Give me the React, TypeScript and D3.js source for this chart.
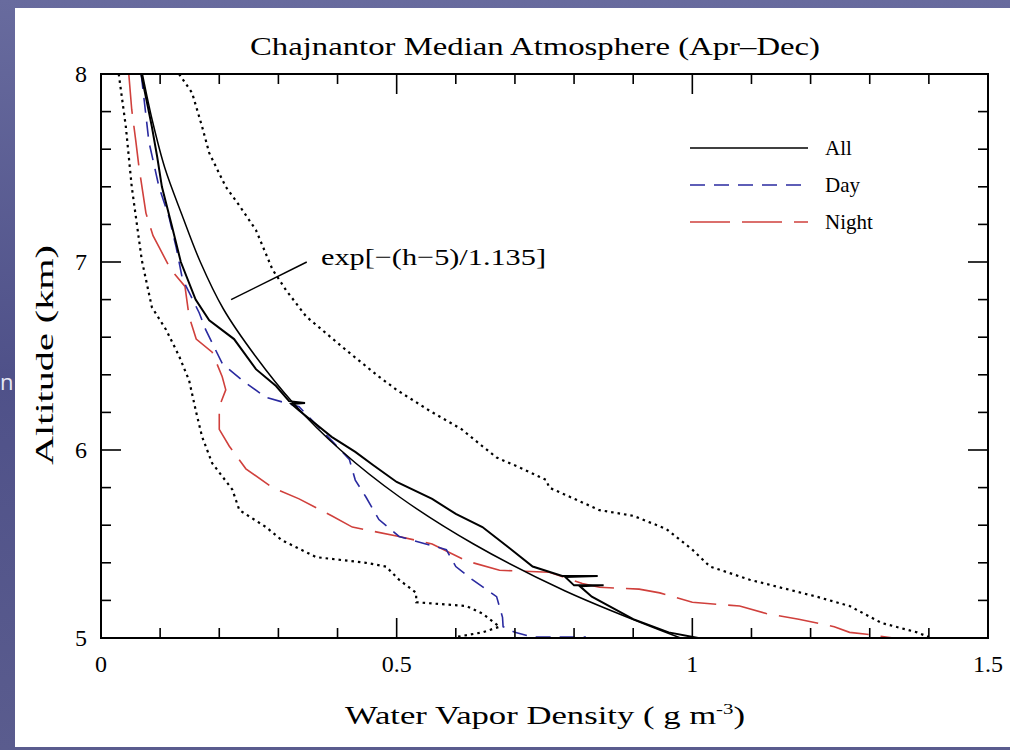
import React from "react";
import * as d3 from "d3";

// ---- data (altitude km, water vapour density g m^-3) ----
const modelAlt = [8.0, 7.75, 7.5, 7.25, 7.0, 6.75, 6.5, 6.25, 6.0, 5.75, 5.5, 5.25, 5.0];
const modelRho = [0.07, 0.087, 0.108, 0.137, 0.168, 0.207, 0.261, 0.325, 0.405, 0.505, 0.63, 0.785, 0.98];

const allAlt = [8.0, 7.86, 7.72, 7.56, 7.4, 7.19, 7.0, 6.8, 6.69, 6.59, 6.43, 6.34, 6.26, 6.25, 6.245, 6.21, 6.07, 5.99, 5.92, 5.83, 5.74, 5.66, 5.59, 5.48, 5.38, 5.33, 5.33, 5.325, 5.28, 5.28, 5.275, 5.22, 5.1, 5.03, 5.0];
const allRho = [0.068, 0.077, 0.086, 0.095, 0.103, 0.12, 0.135, 0.16, 0.183, 0.225, 0.262, 0.296, 0.318, 0.345, 0.322, 0.335, 0.39, 0.43, 0.46, 0.5, 0.56, 0.6, 0.645, 0.69, 0.73, 0.78, 0.84, 0.785, 0.8, 0.85, 0.81, 0.83, 0.9, 0.96, 1.01];

const dayAlt = [8.0, 7.64, 7.4, 7.24, 7.08, 6.92, 6.87, 6.73, 6.64, 6.46, 6.37, 6.28, 6.23, 6.05, 5.95, 5.84, 5.75, 5.63, 5.54, 5.47, 5.38, 5.31, 5.22, 5.11, 5.06, 5.03, 5.005, 5.005];
const dayRho = [0.068, 0.081, 0.098, 0.115, 0.127, 0.137, 0.144, 0.166, 0.177, 0.205, 0.239, 0.279, 0.335, 0.39, 0.42, 0.43, 0.448, 0.47, 0.504, 0.584, 0.6, 0.628, 0.669, 0.679, 0.68, 0.7, 0.73, 0.82];

const nightAlt = [8.0, 7.81, 7.64, 7.51, 7.26, 7.14, 7.08, 6.96, 6.87, 6.71, 6.59, 6.52, 6.39, 6.32, 6.23, 6.11, 6.02, 5.9, 5.8, 5.74, 5.65, 5.59, 5.54, 5.5, 5.41, 5.36, 5.35, 5.29, 5.27, 5.26, 5.24, 5.19, 5.17, 5.13, 5.1, 5.06, 5.03, 5.02, 5.0];
const nightRho = [0.047, 0.052, 0.059, 0.064, 0.076, 0.088, 0.098, 0.118, 0.142, 0.149, 0.161, 0.188, 0.205, 0.211, 0.2, 0.2, 0.217, 0.245, 0.29, 0.335, 0.39, 0.425, 0.504, 0.56, 0.618, 0.674, 0.758, 0.814, 0.843, 0.91, 0.945, 1.0, 1.08, 1.125, 1.18, 1.24, 1.266, 1.295, 1.34];

const lowAlt = [8.0, 7.72, 7.4, 7.01, 6.76, 6.64, 6.5, 6.37, 6.2, 6.07, 5.93, 5.79, 5.68, 5.59, 5.52, 5.43, 5.4, 5.38, 5.31, 5.24, 5.19, 5.17, 5.13, 5.06, 5.03, 5.005];
const lowRho = [0.03, 0.042, 0.052, 0.069, 0.086, 0.11, 0.132, 0.149, 0.161, 0.171, 0.188, 0.222, 0.234, 0.279, 0.306, 0.364, 0.448, 0.482, 0.504, 0.533, 0.533, 0.618, 0.645, 0.674, 0.645, 0.6];

const highAlt = [8.0, 7.9, 7.72, 7.58, 7.4, 7.3, 7.17, 6.96, 6.85, 6.71, 6.53, 6.39, 6.32, 6.21, 6.11, 6.02, 5.96, 5.9, 5.84, 5.8, 5.68, 5.65, 5.58, 5.47, 5.38, 5.31, 5.22, 5.17, 5.08, 5.03, 5.005];
const highRho = [0.132, 0.154, 0.171, 0.183, 0.211, 0.234, 0.262, 0.29, 0.313, 0.347, 0.415, 0.47, 0.5, 0.555, 0.61, 0.645, 0.669, 0.713, 0.753, 0.758, 0.843, 0.9, 0.956, 1.0, 1.03, 1.097, 1.21, 1.266, 1.32, 1.38, 1.4];

const xMajor = [0, 0.5, 1, 1.5];
const xMajorLabels = ["0", "0.5", "1", "1.5"];
const yMajor = [5, 6, 7, 8];
const yMajorLabels = ["5", "6", "7", "8"];

const legendNames = ["All", "Day", "Night"];

const title = "Chajnantor Median Atmosphere (Apr\u2013Dec)";
const annotation = "exp[\u2212(h\u22125)/1.135]";

export default function App() {
  const W = 1010, H = 750;
  const L = 101, R = 988, T = 74, B = 638;
  const x = d3.scaleLinear().domain([0, 1.5]).range([L, R]);
  const y = d3.scaleLinear().domain([5, 8]).range([B, T]);
  const font = "'Liberation Serif', 'DejaVu Serif', serif";

  const mk = (alt: number[], rho: number[]) =>
    d3.line<number>().x((_, i) => x(rho[i])).y((_, i) => y(alt[i])).curve(d3.curveLinear)(alt.map((_, i) => i)) || "";
  const mkSmooth = (alt: number[], rho: number[]) =>
    d3.line<number>().x((_, i) => x(rho[i])).y((_, i) => y(alt[i])).curve(d3.curveCatmullRom)(alt.map((_, i) => i)) || "";

  const xMinor = d3.range(0, 1.5001, 0.1).filter((v) => Math.abs(v * 2 - Math.round(v * 2)) > 1e-6);
  const yMinor = d3.range(5, 8.0001, 0.2).filter((v) => Math.abs(v - Math.round(v)) > 1e-6);

  const blue = "#2a2aa0";
  const red = "#d0403c";
  const dotted = "2.5,4";
  const legendStyles = [
    { stroke: "#000", dash: "none" },
    { stroke: blue, dash: "15,9" },
    { stroke: red, dash: "40,12" },
  ];

  return (
    <svg width={W} height={H} style={{ position: "absolute", left: 0, top: 0 }} xmlns="http://www.w3.org/2000/svg">
      <defs>
        <linearGradient id="bg" x1="0" y1="0" x2="0" y2="1">
          <stop offset="0" stopColor="#686b9e" />
          <stop offset="0.5" stopColor="#4f5189" />
          <stop offset="1" stopColor="#5a5c8e" />
        </linearGradient>
        <clipPath id="plot">
          <rect x={L} y={T} width={R - L} height={B - T} />
        </clipPath>
      </defs>
      <rect x={0} y={0} width={W} height={H} fill="url(#bg)" />
      <text x={0} y={390} fontFamily="'Open Sans', sans-serif" fontSize={22} fill="#e8e8f4">n</text>
      <rect x={15} y={8} width={W - 15} height={739} fill="#ffffff" />

      {/* title */}
      <text x={535} y={55} textAnchor="middle" fontFamily={font} fontSize={25} textLength={570} lengthAdjust="spacingAndGlyphs">{title}</text>

      {/* curves */}
      <g clipPath="url(#plot)" fill="none">
        <path d={mk(lowAlt, lowRho)} stroke="#000" strokeWidth={2.2} strokeDasharray={dotted} />
        <path d={mk(highAlt, highRho)} stroke="#000" strokeWidth={2.2} strokeDasharray={dotted} />
        <path d={mk(nightAlt, nightRho)} stroke={red} strokeWidth={1.6} strokeDasharray="40,12" />
        <path d={mk(dayAlt, dayRho)} stroke={blue} strokeWidth={1.6} strokeDasharray="15,9" />
        <path d={mk(allAlt, allRho)} stroke="#000" strokeWidth={2} />
        <path d={mkSmooth(modelAlt, modelRho)} stroke="#000" strokeWidth={1.5} />
      </g>

      {/* frame */}
      <rect x={L} y={T} width={R - L} height={B - T} fill="none" stroke="#000" strokeWidth={2} />

      {/* ticks */}
      <g stroke="#000" strokeWidth={1.6}>
        {xMajor.map((v) => (
          <g key={"xM" + v}>
            <line x1={x(v)} x2={x(v)} y1={B} y2={B - 20} />
            <line x1={x(v)} x2={x(v)} y1={T} y2={T + 20} />
          </g>
        ))}
        {xMinor.map((v) => (
          <g key={"xm" + v}>
            <line x1={x(v)} x2={x(v)} y1={B} y2={B - 10} />
            <line x1={x(v)} x2={x(v)} y1={T} y2={T + 10} />
          </g>
        ))}
        {yMajor.map((v) => (
          <g key={"yM" + v}>
            <line x1={L} x2={L + 20} y1={y(v)} y2={y(v)} />
            <line x1={R} x2={R - 20} y1={y(v)} y2={y(v)} />
          </g>
        ))}
        {yMinor.map((v) => (
          <g key={"ym" + v}>
            <line x1={L} x2={L + 10} y1={y(v)} y2={y(v)} />
            <line x1={R} x2={R - 10} y1={y(v)} y2={y(v)} />
          </g>
        ))}
      </g>

      {/* tick labels */}
      <g fontFamily={font} fontSize={24}>
        {xMajor.map((v, i) => (
          <text key={"xl" + v} x={x(v)} y={B + 34} textAnchor="middle">{xMajorLabels[i]}</text>
        ))}
        {yMajor.map((v, i) => (
          <text key={"yl" + v} x={L - 14} y={y(v) + 8} textAnchor="end">{yMajorLabels[i]}</text>
        ))}
      </g>

      {/* axis titles */}
      <text x={545} y={724} textAnchor="middle" fontFamily={font} fontSize={25} textLength={400} lengthAdjust="spacingAndGlyphs">
        Water Vapor Density ( g m<tspan dy={-10} fontSize={15}>-3</tspan><tspan dy={10}>)</tspan>
      </text>
      <text transform="translate(53,355) rotate(-90)" textAnchor="middle" fontFamily={font} fontSize={25} textLength={220} lengthAdjust="spacingAndGlyphs">Altitude (km)</text>

      {/* annotation */}
      <line x1={x(0.22)} y1={y(6.8)} x2={x(0.348)} y2={y(7.0)} stroke="#000" strokeWidth={1.5} />
      <text x={x(0.372)} y={y(6.985)} fontFamily={font} fontSize={24} textLength={225} lengthAdjust="spacingAndGlyphs">{annotation}</text>

      {/* legend */}
      {legendNames.map((n, i) => (
        <g key={n}>
          <line x1={690} x2={808} y1={148 + i * 37} y2={148 + i * 37} stroke={legendStyles[i].stroke} strokeWidth={1.6} strokeDasharray={legendStyles[i].dash} />
          <text x={825} y={148 + i * 37 + 7} fontFamily={font} fontSize={21}>{n}</text>
        </g>
      ))}
    </svg>
  );
}
